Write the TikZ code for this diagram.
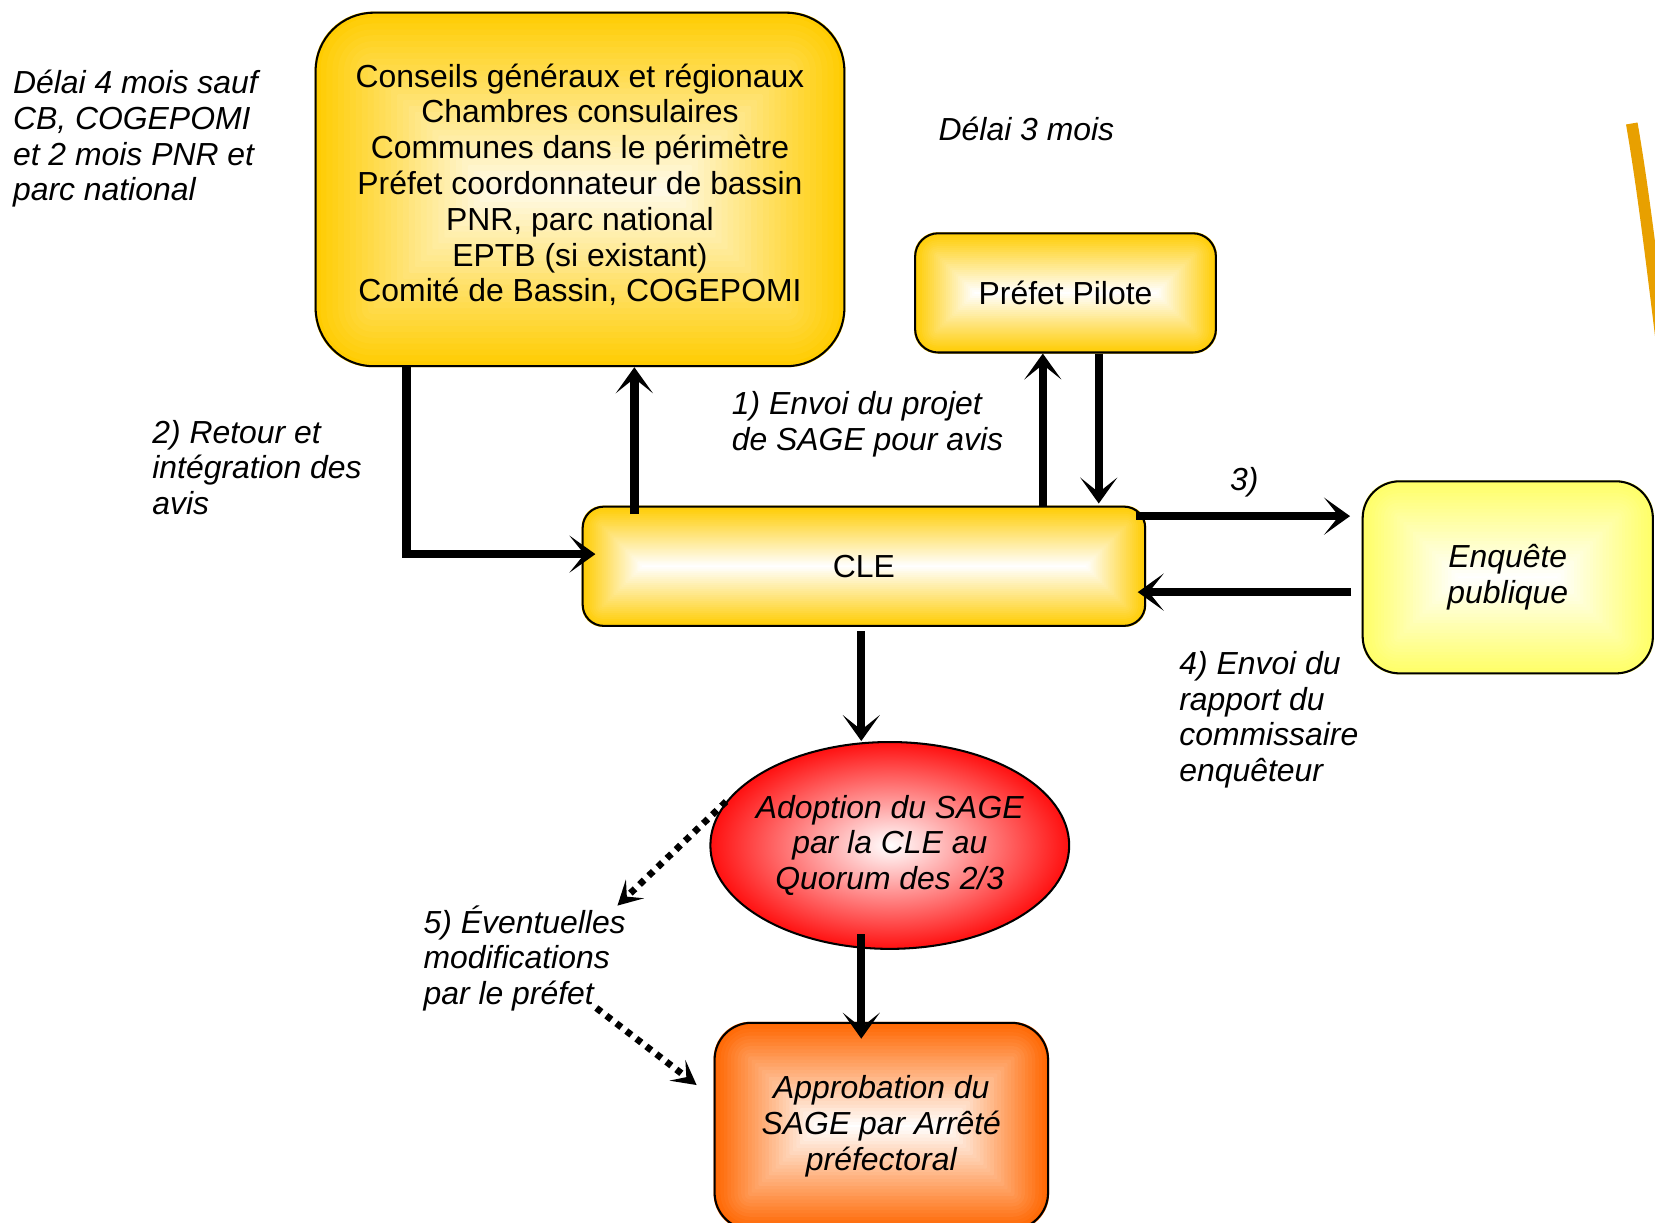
\documentclass[tikz,border=0pt]{standalone}
\usepackage{fontspec}
\setmainfont{Liberation Sans}
\usetikzlibrary{arrows.meta,calc,backgrounds,shapes.geometric}
\definecolor{gold}{HTML}{FFCC00}
\definecolor{lemon}{HTML}{FFFF66}
\definecolor{orng}{HTML}{FF6600}
\definecolor{arcol}{HTML}{E8A000}
\definecolor{redd}{HTML}{FF1010}
% #1 node, #2 colour, #3 corner radius (px), #4 half height (px), #5 min mix
\newcommand\gradbox[5]{%
  \begin{scope}[on background layer]
  \foreach \i in {0,...,30}{%
    \pgfmathsetmacro\dd{\i*#4/30}%
    \pgfmathtruncatemacro\mix{#5+(100-#5)*(1-\i/30)}%
    \pgfmathsetmacro\rr{max(#3-\dd,1)*0.569}%
    \fill[#2!\mix!white, rounded corners=\rr pt] ($(#1.south west)+(\dd,-\dd)$) rectangle ($(#1.north east)+(-\dd,\dd)$);
  }
  \end{scope}}
\begin{document}
\begin{tikzpicture}[x=0.02cm,y=-0.02cm,
  every node/.style={font=\fontsize{17.2}{19.3}\selectfont, inner sep=0pt},
  box/.style={draw=black, line width=1.1pt, rectangle, align=center},
  lbl/.style={font=\fontsize{17.2}{19.3}\selectfont\itshape, align=left, anchor=west},
  arr/.style={line width=4.5pt, line join=miter, -{Stealth[length=14pt,width=20pt,inset=8pt]}},
  dots/.style={line width=3.6pt, dash pattern=on 3.4pt off 3.4pt, -{Stealth[length=13pt,width=14pt,inset=6pt]}}]
\useasboundingbox (0,0) rectangle (1568,1158);
\clip (0,0) rectangle (1568,1158);

% decorative curve
\draw[arcol, line width=6.3pt] (1546,117) .. controls (1556,175) and (1564,240) .. (1575,330);

% boxes
\node[box, rounded corners=1.1cm, minimum width=10.02cm, minimum height=6.70cm] (big) at (549.5,179.5)
  {Conseils généraux et régionaux\\Chambres consulaires\\Communes dans le périmètre\\Préfet coordonnateur de bassin\\PNR, parc national\\EPTB (si existant)\\Comité de Bassin, COGEPOMI\\[-12pt]};
\gradbox{big}{gold}{55}{167.5}{8}

\node[box, rounded corners=0.44cm, minimum width=5.70cm, minimum height=2.26cm] (pref) at (1009.5,277.5) {Préfet Pilote};
\gradbox{pref}{gold}{22}{56.5}{0}

\node[box, rounded corners=0.4cm, minimum width=10.66cm, minimum height=2.26cm] (cle) at (818.5,536.5) {CLE};
\gradbox{cle}{gold}{20}{56.5}{0}

\node[box, rounded corners=0.7cm, minimum width=5.50cm, minimum height=3.64cm, font=\fontsize{17.2}{19.3}\selectfont\itshape] (enq) at (1428.5,547) {Enquête\\publique};
\gradbox{enq}{lemon}{35}{91}{0}

\node[ellipse, draw=black, line width=1.1pt, inner color=white, outer color=redd, inner xsep=-0.25cm, inner ysep=0pt, minimum width=6.8cm, minimum height=3.92cm, align=center, font=\fontsize{17.2}{19.3}\selectfont\itshape] (ell) at (843,801) {Adoption du SAGE\\par la CLE au\\Quorum des 2/3};

\node[box, rounded corners=0.7cm, minimum width=6.32cm, minimum height=3.92cm, font=\fontsize{17.2}{19.3}\selectfont\itshape] (app) at (835,1067) {Approbation du\\SAGE par Arrêté\\préfectoral};
\gradbox{app}{orng}{35}{98}{0}

% labels
\node[lbl] (t4) at (12,131.5) {Délai 4 mois sauf\\CB, COGEPOMI\\et 2 mois PNR et\\parc national};
\node[lbl] (t3m) at (889,122) {Délai 3 mois};
\node[lbl] (l2) at (144,443) {2) Retour et\\intégration des\\avis};
\node[lbl] (l1) at (693,402) {1) Envoi du projet\\de SAGE pour avis};
\node[lbl] (l3) at (1165,457) {3)};
\node[lbl] (l4) at (1117,682) {4) Envoi du\\rapport du\\commissaire\\enquêteur};
\node[lbl] (l5) at (401,908) {5) Éventuelles\\modifications\\par le préfet};

% helper coordinates
\coordinate (xa) at (385,0);
\coordinate (xb) at (601,0);
\coordinate (xc) at (988,0);
\coordinate (xd) at (1041,0);
\coordinate (xg) at (816,0);
\coordinate (ye) at (0,489);
\coordinate (yf) at (0,561);
\coordinate (yw) at (0,525);
\coordinate (d1) at (585,858);
\coordinate (d2) at (565,955);
\coordinate (d3) at (660,1028);

% connectors
\draw[arr] (big.south -| xa) |- ($(cle.west |- yw)+(13,0)$);
\draw[arr] ($(cle.north -| xb)+(0,8)$) -- (big.south -| xb);
\draw[arr] (cle.north -| xc) -- (pref.south -| xc);
\draw[arr] (pref.south -| xd) -- ($(cle.north -| xd)+(0,-2)$);
\draw[arr] ($(cle.east |- ye)+(-10,0)$) -- ($(enq.west |- ye)+(-11,0)$);
\draw[arr] ($(enq.west |- yf)+(-10,0)$) -- ($(cle.east |- yf)+(-8,0)$);
\draw[arr] ($(cle.south -| xg)+(0,4)$) -- (ell.north -| xg);
\draw[arr] ($(ell.south -| xg)+(0,-15)$) -- ($(app.north -| xg)+(0,16)$);
\draw[dots] (ell.165) -- (d1);
\draw[dots] (d2) -- (d3);
\end{tikzpicture}
\end{document}
